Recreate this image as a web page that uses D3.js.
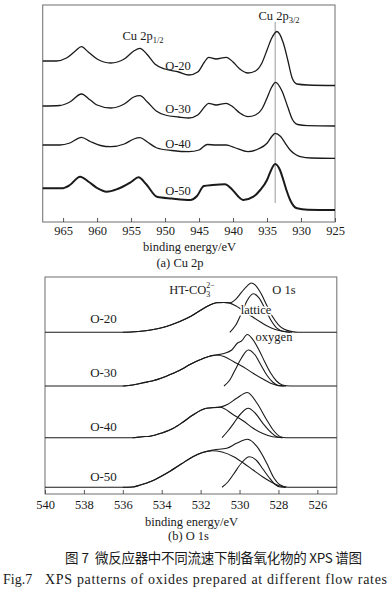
<!DOCTYPE html>
<html><head><meta charset="utf-8">
<script src="https://cdn.jsdelivr.net/npm/d3@7"></script>
<style>html,body{margin:0;padding:0;background:#fff;} svg{display:block;}</style>
</head><body>
<svg id="c" width="390" height="599"></svg>
<script>
// ---------- DATA ----------
const sampleNames = ["O-20", "O-30", "O-40", "O-50"];
const cuTicks = [965, 960, 955, 950, 945, 940, 935, 930, 925];
const oTicks = [540, 538, 536, 534, 532, 530, 528, 526];
const cu2p32Energy = 933.8;

// Cu 2p spectra: [binding energy eV, stacked intensity a.u.]
const cuO20 = [[968,161],[966,161],[964.5,164],[963.2,171],[962.3,175.3],[961.3,170],[960,163],[958,159],[956,163],[954.6,171],[953.7,173.7],[952.7,168],[951.5,158],[950,153],[948,150],[946.5,147],[945.2,150],[944.2,160],[943.6,164.7],[942.5,163],[941,164.7],[940,160],[939,153],[937.8,149],[936.7,151],[935.75,159],[935.0,172],[934.3,184],[933.55,190.5],[932.6,179],[931.95,162],[931.3,144],[930.6,138],[929,137],[925,136.5]];
const cuO30 = [[968,116],[965.5,116.5],[964,120],[962.3,128],[961,122],[960,117],[958,114],[956,118],[954.6,125],[953.7,126.3],[952.6,120],[951.3,111],[950,107],[948,105],[946.5,104],[945.2,107],[944.2,115],[943.6,118.7],[942.5,117],[941,118.7],[940,115],[939,109],[937.8,105.3],[936.7,107],[935.75,113],[935.0,124],[934.3,135],[933.75,139.7],[932.8,131],[932,116],[931.3,103],[930.5,97.5],[929,96.3],[925,96]];
const cuO40 = [[968,77],[965.5,77],[964,79],[962.3,84.7],[961,80.5],[959.5,76.5],[958,75.3],[956,78],[954.6,83],[953.7,84.3],[952.6,80],[951.2,74],[949,71.5],[946.5,70.3],[945,72],[943.8,77.5],[942.5,77],[941,77],[939.8,74.5],[937.8,70.3],[936.3,73],[935.0,78.7],[934.3,85.5],[933.8,88.7],[933.0,85.5],[932.3,78.7],[931.6,72],[930.8,67.5],[930.1,65.3],[928.5,64],[925,63.7]];
const cuO50 = [[968,33.7],[965.2,33.7],[964,37],[962.5,45.3],[961.2,40],[960,34],[958.6,30.3],[957,33],[955,40],[953.9,44.7],[952.8,38],[951.2,25.3],[949,23.5],[946.3,22],[945.3,26],[944.3,36],[943,37],[941.2,37.7],[940.2,33],[939.3,26],[938.5,22],[937,25.3],[936,32],[935,42],[934.5,50.3],[933.8,58],[933.1,52],[932.6,42],[932.1,31],[931.6,22],[930.6,13.7],[929,12.3],[925,12]];

// O 1s spectra: [binding energy eV, intensity above own baseline a.u.]
const o1sOffsets = [161.7, 108, 56.3, 6.7];
const oEnvelope = [
  [[540,0],[536,0],[535.2,0.8],[534.5,2.5],[534,4.5],[533.5,7.5],[533.1,10.5],[532.5,16],[532,22],[531.6,26.5],[531.2,29.5],[530.8,29.8],[530.5,29.5],[530.2,33],[529.9,40],[529.6,46.5],[529.4,49.3],[529.2,47.5],[528.9,39],[528.6,27],[528.3,15.5],[528,7.5],[527.7,3],[527.3,0.7],[527,0],[525,0]],
  [[540,0],[536,0],[535.5,1],[535,3],[534.5,5],[534,8],[533.5,12],[533,16.5],[532.5,22],[532,26.5],[531.5,30],[531.2,31],[530.8,32.5],[530.4,36],[530.1,43],[529.9,45],[529.6,51.5],[529.3,46],[529.0,36],[528.7,24],[528.4,13],[528.1,5],[527.8,1],[527.4,0],[525,0]],
  [[540,0],[536,0],[535.5,0],[535,1],[534.6,1.5],[534,4.7],[533.4,9.4],[532.9,15.7],[532.4,22.7],[531.7,29.4],[531.0,30.6],[530.6,33.5],[530.15,39.4],[529.6,45.2],[529.1,34.4],[528.6,17.7],[528.27,7.7],[527.9,1],[527.6,0],[525,0]],
  [[540,0],[536,0],[535.5,0.3],[535.1,2.3],[534.5,6.3],[533.75,14],[533,23.3],[532.4,30.6],[531.9,34.8],[531.35,37.3],[530.66,39],[530.15,44],[529.6,48],[529.1,40.6],[528.6,24],[528.27,10.6],[527.9,2.3],[527.5,0],[525,0]]
];
const oCarbonate = [
  [[536,0],[535.2,0.8],[534.5,2.5],[534,4.5],[533.5,7.5],[533.1,10.5],[532.5,16],[532,22],[531.6,26.5],[531.2,29.5],[530.8,29.8],[530.5,29.2],[530.2,26.5],[529.8,21.5],[529.3,15],[528.9,10],[528.6,6.5],[528.2,3],[527.8,1],[527.4,0]],
  [[536,0],[535.5,1],[535,3],[534.5,5],[534,8],[533.5,12],[533,16.5],[532.5,22],[532,26.5],[531.5,30],[531.2,31],[530.8,29.5],[530.3,24.3],[529.8,19],[529.3,12.7],[528.8,7],[528.4,2.7],[528,0.4],[527.6,0]],
  [[535.5,0],[535,1],[534.6,1.5],[534,4.7],[533.4,9.4],[532.9,15.7],[532.4,22.7],[531.7,29.4],[531.0,30.4],[530.3,22.7],[529.8,16.7],[529.3,9.4],[528.8,4.2],[528.3,1],[527.8,0]],
  [[536,0],[535.5,0.3],[535.1,2.3],[534.5,6.3],[533.75,14],[533,23.3],[532.4,30.6],[531.9,34.8],[531.4,36.6],[530.9,35.3],[530.3,30.6],[529.8,24.3],[529.3,17.3],[528.8,10.3],[528.4,5.6],[528.0,1.8],[527.6,0]]
];
const oLattice = [
  [[530.5,0],[530.2,7],[529.9,19],[529.6,32],[529.3,38.5],[529.0,34.5],[528.7,24],[528.4,12.5],[528.1,4.5],[527.7,0.8],[527.3,0]],
  [[530.8,0],[530.5,6],[530.2,17],[529.9,28],[529.55,36],[529.2,31],[528.9,21],[528.6,11],[528.3,4],[528,0.5],[527.7,0]],
  [[530.9,0],[530.6,6.7],[530.3,14.4],[529.95,23.7],[529.55,29.4],[529.2,24.7],[528.8,14.4],[528.4,5.7],[528.1,1.2],[527.8,0]],
  [[530.9,0],[530.6,5.3],[530.3,13.3],[529.9,24.3],[529.5,30.6],[529.1,26.3],[528.8,18.3],[528.5,10.3],[528.2,3.3],[527.9,0.3],[527.6,0]]
];

// ---------- LAYOUT ----------
const svg = d3.select("#c");
const FONT = "'Liberation Serif','Times New Roman',serif";
const ink = "#1a1a1a";

const xT = d3.scaleLinear().domain([968, 925]).range([42.7, 335]);
const yT = d3.scaleLinear().domain([0, 217]).range([222, 5]);
const xB = d3.scaleLinear().domain([540, 525]).range([45, 336.8]);
const yB = d3.scaleLinear().domain([0, 217]).range([494, 277]);

function frame(x, y, pad) {
  const g = svg.append("g");
  g.append("rect").attr("x", x.range()[0]).attr("y", y.range()[1])
    .attr("width", x.range()[1] - x.range()[0]).attr("height", y.range()[0] - y.range()[1])
    .attr("fill", "none").attr("stroke", "#7a7a7a").attr("stroke-width", 1.1);
  return g;
}
function axis(x, y, ticks, pad) {
  const ax = svg.append("g").attr("transform", `translate(0,${y.range()[0]})`)
    .call(d3.axisBottom(x).tickValues(ticks).tickSizeInner(-4).tickSizeOuter(0).tickPadding(pad).tickFormat(d3.format("d")));
  ax.select(".domain").remove();
  ax.selectAll(".tick line").attr("stroke", "#555");
  ax.selectAll("text").attr("font-family", FONT).attr("font-size", 12.5).attr("fill", ink);
}
function txt(x, y, s, size, anchor) {
  return svg.append("text").attr("x", x).attr("y", y).attr("font-family", FONT)
    .attr("font-size", size || 12.5).attr("fill", ink).attr("text-anchor", anchor || "middle").text(s);
}

// ---------- TOP PANEL: Cu 2p ----------
frame(xT, yT);
axis(xT, yT, cuTicks, 4);
svg.append("line").attr("x1", xT(cu2p32Energy)).attr("x2", xT(cu2p32Energy))
  .attr("y1", 22).attr("y2", 203).attr("stroke", "#999").attr("stroke-width", 1);
const lineT = d3.line().x(d => xT(d[0])).y(d => yT(d[1])).curve(d3.curveMonotoneX);
[cuO20, cuO30, cuO40, cuO50].forEach((s, i) => {
  svg.append("path").attr("d", lineT(s)).attr("fill", "none").attr("stroke", ink)
    .attr("stroke-width", i === 3 ? 2 : 1.3).attr("stroke-linejoin", "round");
});
const topLabelY = [69.5, 112.5, 147.5, 195];
sampleNames.forEach((n, i) => txt(178, topLabelY[i], n, 12.5));
{
  const t = txt(143, 40, "Cu 2p", 12.5);
  t.append("tspan").attr("font-size", 8.5).attr("dy", 3).text("1/2");
  const t2 = txt(279, 20, "Cu 2p", 12.5);
  t2.append("tspan").attr("font-size", 8.5).attr("dy", 3).text("3/2");
}
txt(189.5, 251, "binding energy/eV", 12.5);
txt(180, 267, "(a) Cu 2p", 12.5);

// ---------- BOTTOM PANEL: O 1s ----------
frame(xB, yB);
axis(xB, yB, oTicks, 6);
sampleNames.forEach((n, i) => {
  const off = o1sOffsets[i];
  const line = d3.line().x(d => xB(d[0])).y(d => yB(d[1] + off)).curve(d3.curveMonotoneX);
  [oCarbonate[i], oLattice[i], oEnvelope[i]].forEach(s => {
    svg.append("path").attr("d", line(s)).attr("fill", "none").attr("stroke", ink)
      .attr("stroke-width", 1.1).attr("stroke-linejoin", "round");
  });
});
const botLabelY = [323, 377, 430.5, 480.5];
sampleNames.forEach((n, i) => txt(103.5, botLabelY[i], n, 13));
{
  const t = txt(192, 293.5, "HT-CO", 12.5);
  t.append("tspan").attr("font-size", 8).attr("dy", 3).text("3");
  t.append("tspan").attr("font-size", 8).attr("dx", -4).attr("dy", -8.5).text("2\u2212");
}
txt(284, 293.5, "O 1s", 12.5);
txt(256, 313.5, "lattice", 12.5).attr("stroke", "#fff").attr("stroke-width", 3).attr("paint-order", "stroke");
txt(274, 340.5, "oxygen", 12.5);
txt(191.5, 525.5, "binding energy/eV", 12.5);
txt(188.5, 539.5, "(b) O 1s", 12.5);

// ---------- CAPTIONS ----------
const CJK = "'Noto Sans CJK SC','Noto Sans',sans-serif";
svg.append("text").attr("x", 65).attr("y", 563).attr("font-family", CJK).attr("font-size", 13.5)
  .attr("fill", ink).text("图 7");
svg.append("text").attr("x", 95).attr("y", 563).attr("font-family", CJK).attr("font-size", 13.5)
  .attr("fill", ink).attr("textLength", 267).attr("lengthAdjust", "spacing")
  .text("微反应器中不同流速下制备氧化物的 XPS 谱图");
svg.append("text").attr("x", 3).attr("y", 583.5).attr("font-family", FONT).attr("font-size", 14)
  .attr("fill", ink).text("Fig.7");
svg.append("text").attr("x", 45).attr("y", 583.5).attr("font-family", FONT).attr("font-size", 14)
  .attr("fill", ink).attr("textLength", 342).attr("lengthAdjust", "spacing")
  .text("XPS patterns of oxides prepared at different flow rates");
</script>
</body></html>
